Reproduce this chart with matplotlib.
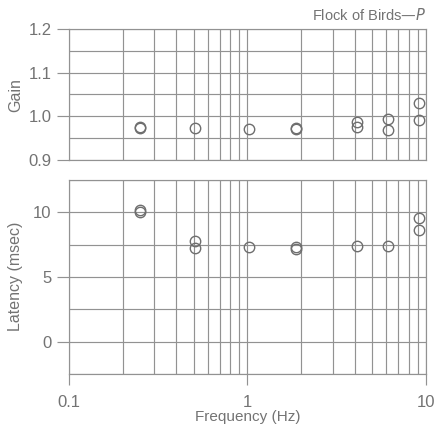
import matplotlib.pyplot as plt
from matplotlib.ticker import FixedLocator, NullFormatter, LogLocator, MultipleLocator

plt.rcParams['font.family'] = ['Liberation Sans', 'DejaVu Sans']

# stimulus frequencies (Hz), repeated runs at most frequencies
freq_gain = [0.25, 0.25, 0.51, 1.02, 1.87, 1.87, 4.1, 4.1, 6.1, 6.1, 9.1, 9.1]
gain = [0.973, 0.975, 0.973, 0.972, 0.972, 0.973, 0.987, 0.975, 0.994, 0.969, 1.030, 0.992]
freq_lat = [0.25, 0.25, 0.51, 0.51, 1.02, 1.87, 1.87, 4.1, 6.1, 9.1, 9.1]
latency = [10.18, 10.0, 7.8, 7.26, 7.3, 7.3, 7.2, 7.4, 7.4, 9.55, 8.67]

gain_ticks = [0.9, 1.0, 1.1, 1.2]
gain_labels = ['0.9', '1.0', '1.1', '1.2']
lat_ticks = [0, 5, 10]
x_ticks = [0.1, 1, 10]
x_labels = ['0.1', '1', '10']

grey = '#929292'
text_grey = '#737373'
mark_grey = '#6e6e6e'

fig = plt.figure(figsize=(4.35, 4.25), dpi=100)
ax1 = fig.add_axes([69 / 435, 1 - 160 / 425, 357 / 435, 131 / 425])
ax2 = fig.add_axes([69 / 435, 1 - 374 / 425, 357 / 435, 194 / 425])

for ax in (ax1, ax2):
    ax.set_xscale('log')
    ax.set_xlim(0.1, 10)
    ax.xaxis.set_major_locator(FixedLocator(x_ticks))
    ax.xaxis.set_minor_locator(LogLocator(base=10, subs=range(2, 10)))
    ax.xaxis.set_minor_formatter(NullFormatter())
    ax.grid(True, which='both', color=grey, linewidth=0.85)
    ax.set_axisbelow(True)
    for s in ax.spines.values():
        s.set_color(grey)
        s.set_linewidth(0.85)
    ax.tick_params(axis='both', which='major', color=grey, length=9, width=0.85,
                   labelcolor=text_grey, labelsize=12)
    ax.tick_params(axis='x', which='minor', length=0)

# gain panel
ax1.set_ylim(0.9, 1.2)
ax1.yaxis.set_major_locator(FixedLocator(gain_ticks))
ax1.yaxis.set_minor_locator(MultipleLocator(0.05))
ax1.tick_params(axis='y', which='minor', length=0)
ax1.set_yticklabels(gain_labels)
ax1.tick_params(axis='x', which='major', length=0, labelbottom=False)
ax1.plot(freq_gain, gain, 'o', mfc='none', mec=mark_grey, mew=1.0, ms=7.5, clip_on=False)
ax1.text(1.0, 1.045, 'Flock of Birds\u2014$\\mathit{P}$', transform=ax1.transAxes,
         ha='right', va='bottom', color=text_grey, fontsize=10.5)

# latency panel
ax2.set_ylim(-2.5, 12.5)
ax2.yaxis.set_major_locator(FixedLocator(lat_ticks))
ax2.yaxis.set_minor_locator(MultipleLocator(2.5))
ax2.tick_params(axis='y', which='minor', length=0)
ax2.tick_params(axis='x', which='major', length=8, pad=7)
ax2.set_xticklabels(x_labels)
ax2.plot(freq_lat, latency, 'o', mfc='none', mec=mark_grey, mew=1.0, ms=7.5, clip_on=False)
ax2.set_xlabel('Frequency (Hz)', color=text_grey, fontsize=11, labelpad=0)

# y labels share one column at the left edge
fig.text(16 / 435, 1 - 95 / 425, 'Gain', rotation=90, ha='center', va='center',
         color=text_grey, fontsize=11.5)
fig.text(16 / 435, 1 - 276 / 425, 'Latency (msec)', rotation=90, ha='center', va='center',
         color=text_grey, fontsize=11.5)

fig.savefig('out.png', dpi=100)
